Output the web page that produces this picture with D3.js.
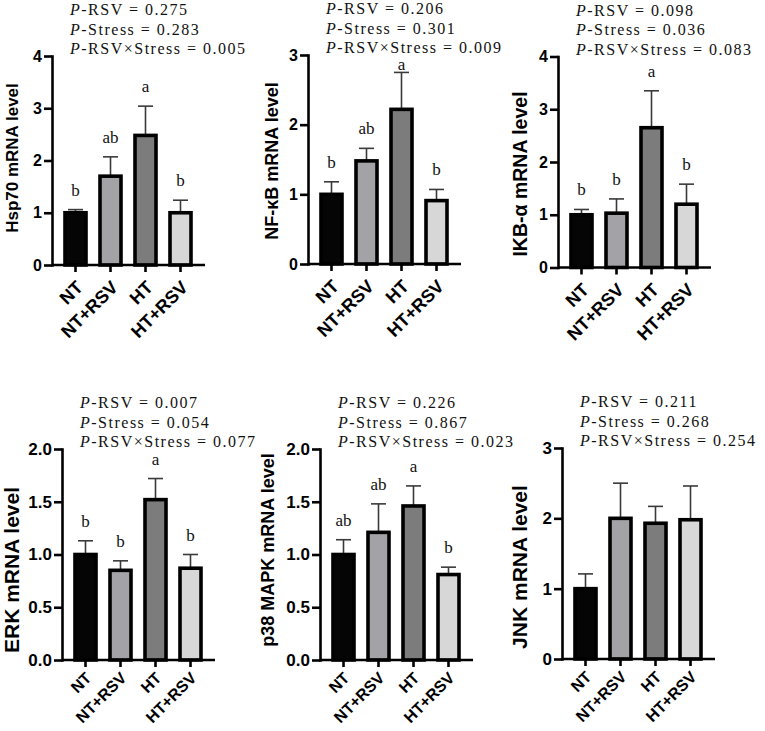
<!DOCTYPE html>
<html>
<head>
<meta charset="utf-8">
<script src="https://cdn.jsdelivr.net/npm/d3@7"></script>
<style>
    body { margin: 0; background: #fff; }
    svg { display: block; }
    .sans { font-family: "Liberation Sans", Arial, sans-serif; font-weight: bold; fill: #000; }
    .serif { font-family: "Liberation Serif", "Times New Roman", serif; fill: #111; }
</style>
</head>
<body>
<svg width="765" height="731"></svg>
<script>
// groups and colours
const groups = ["NT", "NT+RSV", "HT", "HT+RSV"];
const groupColors = ["#050505", "#a3a3a7", "#7c7c7c", "#d7d7d7"];

// genes
const genes = ["Hsp70", "NF-κB", "IKB-α", "ERK", "p38 MAPK", "JNK"];

// means / SEM
const hsp70Mean = [1.0, 1.7, 2.48, 1.0];
const hsp70Err = [0.06, 0.37, 0.56, 0.24];
const nfkbMean = [1.0, 1.48, 2.22, 0.91];
const nfkbErr = [0.18, 0.18, 0.53, 0.16];
const ikbMean = [1.0, 1.03, 2.65, 1.2];
const ikbErr = [0.1, 0.27, 0.7, 0.38];
const erkMean = [1.0, 0.85, 1.52, 0.87];
const erkErr = [0.13, 0.09, 0.2, 0.13];
const p38Mean = [1.0, 1.21, 1.46, 0.81];
const p38Err = [0.14, 0.27, 0.19, 0.07];
const jnkMean = [1.0, 2.0, 1.93, 1.98];
const jnkErr = [0.21, 0.5, 0.24, 0.48];

// significance letters
const hsp70Sig = ["b", "ab", "a", "b"];
const nfkbSig = ["b", "ab", "a", "b"];
const ikbSig = ["b", "b", "a", "b"];
const erkSig = ["b", "b", "a", "b"];
const p38Sig = ["ab", "ab", "a", "b"];
const jnkSig = ["", "", "", ""];

// P values
const pRsv = ["0.275", "0.206", "0.098", "0.007", "0.226", "0.211"];
const pStress = ["0.283", "0.301", "0.036", "0.054", "0.867", "0.268"];
const pInter = ["0.005", "0.009", "0.083", "0.077", "0.023", "0.254"];

// y ticks
const ticks4 = [0, 1, 2, 3, 4];
const ticks3 = [0, 1, 2, 3];
const ticks2 = [0, 0.5, 1.0, 1.5, 2.0];

const means = [hsp70Mean, nfkbMean, ikbMean, erkMean, p38Mean, jnkMean];
const errs = [hsp70Err, nfkbErr, ikbErr, erkErr, p38Err, jnkErr];
const sigs = [hsp70Sig, nfkbSig, ikbSig, erkSig, p38Sig, jnkSig];
const tickSets = [ticks4, ticks3, ticks4, ticks2, ticks2, ticks3];

// panel layout
const topRow = { tickSize: 16, xSize: 18, xShift: "translate(4,19)" };
const botRow = { tickSize: 17, xSize: 16, xShift: "translate(3,15)" };
const layout = [
    { ax: 52, top: 56, bottom: 265, labelX: 12, labelY: 158, labelSize: 17, row: topRow, fmt: d3.format("d") },
    { ax: 308, top: 55, bottom: 264, labelX: 272, labelY: 161, labelSize: 18, row: topRow, fmt: d3.format("d") },
    { ax: 558, top: 56.5, bottom: 267.5, labelX: 520, labelY: 174, labelSize: 19.5, row: topRow, fmt: d3.format("d") },
    { ax: 62, top: 449, bottom: 660, labelX: 12, labelY: 570, labelSize: 21, row: botRow, fmt: d3.format(".1f") },
    { ax: 320, top: 449, bottom: 660, labelX: 268, labelY: 550, labelSize: 18, row: botRow, fmt: d3.format(".1f") },
    { ax: 562, top: 448, bottom: 659, labelX: 520, labelY: 567, labelSize: 21, row: botRow, fmt: d3.format("d") }
];

let svg = d3.select("svg");

layout.forEach((p, i) => {
    let ticks = tickSets[i];
    let ymax = ticks[ticks.length - 1];
    let g = svg.append("g");

    let y = d3.scaleLinear().domain([0, ymax]).range([p.bottom, p.top]);
    let x = d3.scaleBand().domain(groups)
        .range([p.ax + 6, p.ax + 146])
        .paddingInner(0.4)
        .paddingOuter(0.2);

    let rows = groups.map((grp, j) => ({
        grp: grp, mean: means[i][j], err: errs[i][j], sig: sigs[i][j], color: groupColors[j]
    }));

    // error bars
    let eb = g.selectAll(".eb").data(rows).enter().append("g")
        .attr("stroke", "#3a3a3a").attr("stroke-width", 1.6);
    eb.append("line")
        .attr("x1", d => x(d.grp) + x.bandwidth() / 2)
        .attr("x2", d => x(d.grp) + x.bandwidth() / 2)
        .attr("y1", d => y(d.mean))
        .attr("y2", d => y(d.mean + d.err));
    eb.append("line")
        .attr("x1", d => x(d.grp) + x.bandwidth() / 2 - 7.5)
        .attr("x2", d => x(d.grp) + x.bandwidth() / 2 + 7.5)
        .attr("y1", d => y(d.mean + d.err))
        .attr("y2", d => y(d.mean + d.err));

    // bars
    g.selectAll("rect").data(rows).enter().append("rect")
        .attr("x", d => x(d.grp))
        .attr("y", d => y(d.mean))
        .attr("width", x.bandwidth())
        .attr("height", d => y(0) - y(d.mean))
        .attr("fill", d => d.color)
        .attr("stroke", "#000")
        .attr("stroke-width", 3.6);

    // letters
    g.selectAll(".sig").data(rows).enter().append("text")
        .attr("class", "serif sig")
        .attr("x", d => x(d.grp) + x.bandwidth() / 2)
        .attr("y", d => Math.max(y(d.mean + d.err) - 14, p.top + 15))
        .attr("text-anchor", "middle")
        .style("font-size", "17px")
        .text(d => d.sig);

    // y axis
    let ya = g.append("g")
        .attr("transform", `translate(${p.ax},0)`)
        .call(d3.axisLeft(y).tickValues(ticks).tickSize(8).tickSizeOuter(0).tickPadding(2).tickFormat(p.fmt));
    ya.select(".domain").attr("stroke-width", 2.6).attr("stroke-linecap", "square");
    ya.selectAll(".tick line").attr("stroke-width", 2.6);
    ya.selectAll(".tick text").attr("class", "sans").style("font-size", p.row.tickSize + "px");

    // x axis
    let xa = g.append("g")
        .attr("transform", `translate(0,${p.bottom})`)
        .call(d3.axisBottom(x).tickSize(7).tickSizeOuter(0));
    xa.select(".domain").remove();
    xa.append("line")
        .attr("x1", p.ax).attr("x2", p.ax + 153)
        .attr("stroke", "#000").attr("stroke-width", 2.6);
    xa.selectAll(".tick line").attr("stroke-width", 2.6);
    xa.selectAll(".tick text")
        .attr("class", "sans")
        .attr("x", 0).attr("y", 0).attr("dy", "0.35em")
        .attr("transform", p.row.xShift + " rotate(-45)")
        .style("text-anchor", "end")
        .style("font-size", p.row.xSize + "px");

    // y label
    g.append("text")
        .attr("class", "sans")
        .attr("transform", `translate(${p.labelX},${p.labelY}) rotate(-90)`)
        .attr("dy", "0.35em")
        .attr("text-anchor", "middle")
        .style("font-size", p.labelSize + "px")
        .text(genes[i] + " mRNA level");

    // P values
    let lines = ["-RSV = " + pRsv[i], "-Stress = " + pStress[i], "-RSV×Stress = " + pInter[i]];
    lines.forEach((ln, k) => {
        let t = g.append("text")
            .attr("class", "serif")
            .attr("x", p.ax + 18)
            .attr("y", p.top - 41 + k * 19.5)
            .style("font-size", "16px")
            .style("letter-spacing", "1.5px");
        t.append("tspan").style("font-style", "italic").text("P");
        t.append("tspan").text(ln);
    });
});
</script>
</body>
</html>
